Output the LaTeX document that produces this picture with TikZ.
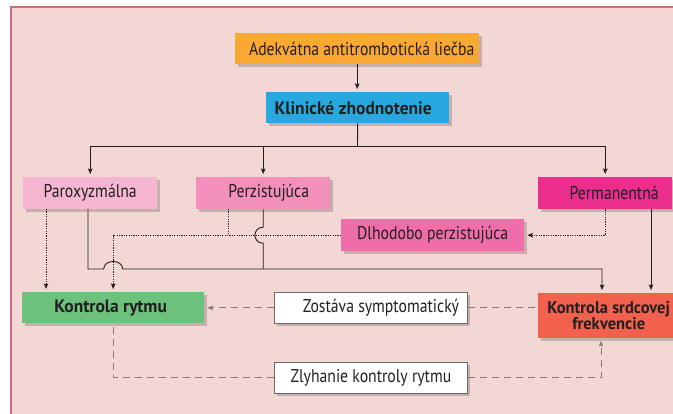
\documentclass[tikz,border=0pt]{standalone}
\usepackage{fontspec}
\setmainfont{PT Sans}[FakeStretch=0.85]
\newfontfamily\headfont{PT Sans}[FakeStretch=0.97]
\usetikzlibrary{arrows.meta,shadows,calc}

\definecolor{bgpink}{HTML}{F2D7D5}
\definecolor{framepink}{HTML}{C8707E}
\definecolor{inkdark}{HTML}{231F20}
\definecolor{cOrange}{HTML}{F9A833}
\definecolor{cBlue}{HTML}{27A9E0}
\definecolor{cParox}{HTML}{F6B6D2}
\definecolor{cPerz}{HTML}{F28FBB}
\definecolor{cPerm}{HTML}{EB2D8D}
\definecolor{cDlho}{HTML}{EF6DA8}
\definecolor{cGreen}{HTML}{6CC17D}
\definecolor{cRed}{HTML}{F1614D}
\definecolor{dashgray}{HTML}{857B7B}
\definecolor{boxgray}{HTML}{6D6868}

\tikzset{
  box/.style={rectangle, inner sep=0pt, anchor=north west, text=inkdark,
    font=\fontsize{18.5}{15.5}\selectfont, align=center,
    drop shadow={shadow xshift=2.5pt, shadow yshift=-2.5pt, opacity=0.18, fill=black}},
  boldbox/.style={box, font=\headfont\fontsize{18}{15.5}\selectfont\bfseries},
  whitebox/.style={box, fill=white, draw=boxgray, line width=0.8pt},
  wire/.style={draw=inkdark, line width=0.9pt},
  dots/.style={draw=inkdark, line width=1pt, dash pattern=on 1.2pt off 1.2pt},
  gdash/.style={draw=dashgray, line width=0.9pt, dash pattern=on 7pt off 5pt},
  arr/.style={-{Stealth[length=5.5pt,width=4.6pt,inset=1pt]}, shorten >=3pt},
}

\begin{document}
\begin{tikzpicture}[x=1pt,y=-1pt]
\useasboundingbox (0,0) rectangle (673,414);
\clip (0,0) rectangle (673,414);
\fill[white] (0,0) rectangle (673,414);

% panel
\draw[framepink, line width=1.3pt, fill=bgpink] (11,7) rectangle (700,430);

% boxes
\node[box, fill=cOrange, minimum width=244pt, minimum height=31pt] (ade) at (235,33)
  {\hspace*{9pt}Adekvátna antitrombotická liečba};
\node[boldbox, fill=cBlue, minimum width=183pt, minimum height=31pt] (klin) at (266,92)
  {Klinické zhodnotenie\hspace*{9pt}};
\node[box, fill=cParox, minimum width=134pt, minimum height=32pt] (par) at (23,177)
  {Paroxyzmálna};
\node[box, fill=cPerz, minimum width=134pt, minimum height=32pt] (perz) at (196,177)
  {\hspace*{11pt}Perzistujúca};
\node[box, fill=cPerm, minimum width=134pt, minimum height=32pt] (perm) at (538,177)
  {\hspace*{18pt}Permanentná};
\node[box, fill=cDlho, minimum width=183pt, minimum height=32pt] (dlh) at (341,219)
  {Dlhodobo perzistujúca};
\node[boldbox, fill=cGreen, minimum width=182pt, minimum height=31pt] (ryt) at (22,292)
  {Kontrola rytmu\hspace*{5pt}};
\node[whitebox, minimum width=193pt, minimum height=31pt] (zos) at (274,292)
  {\hspace*{20pt}Zostáva symptomatický};
\node[whitebox, minimum width=193pt, minimum height=31pt] (zly) at (274,362)
  {Zlyhanie kontroly rytmu};
\node[boldbox, fill=cRed, minimum width=145pt, minimum height=45pt,
  font=\headfont\fontsize{17}{15.5}\selectfont\bfseries] (srd) at (538,293)
  {Kontrola srdcovej\hspace*{4pt}\\frekvencie\hspace*{4pt}};

% junction and routing points
\coordinate (split) at (357.5,146);
\coordinate (pardot) at (46,209);
\coordinate (parwire) at (88,209);
\coordinate (perzdot) at (228,209);
\coordinate (permwire) at (651,209);
\coordinate (busL) at (88,269);
\coordinate (busR) at (602,269);
\coordinate (srdtop) at (602,293);
\coordinate (srdin) at (601,338);

% solid flow
\draw[wire, arr] (ade.south) -- (ade.south |- klin.north);
\draw[wire] (klin.south) -- (split);
\draw[wire, arr] (split) -| (par.north);
\draw[wire, arr] (split) -| (perz.north);
\draw[wire, arr] (split) -| (perm.north);

% dotted flow
\draw[dots, arr] (perm.south) |- (dlh.east);
\draw[dots, arr] (dlh.west) -| (ryt.north);
\draw[dots] (perzdot) -- (perzdot |- dlh.west);
\draw[dots, arr] (pardot) -- (pardot |- ryt.north);

% solid bus with line jumps
\draw[wire] (perz.south) -- ($(perz.south |- dlh.west)+(0,-8)$)
  .. controls +(-11,0) and +(-11,0) .. +(0,16) -- (perz.south |- busL);
\draw[wire, arr] (parwire) |- ($(busL -| ryt.north)+(-9.5,0)$)
  .. controls +(0,-10) and +(0,-10) .. +(19,0) -- (busR) -- (srdtop);
\draw[wire, arr] (permwire) -- (permwire |- srd.north);

% dashed feedback
\draw[gdash] (zos.east) -- (zos.east -| srd.west);
\draw[gdash, arr] (zos.west) -- (zos.west -| ryt.east);
\draw[gdash] ([yshift=-4pt]ryt.south) |- (zly.west);
\draw[gdash, arr] (zly.east) -| (srdin);
\end{tikzpicture}
\end{document}
